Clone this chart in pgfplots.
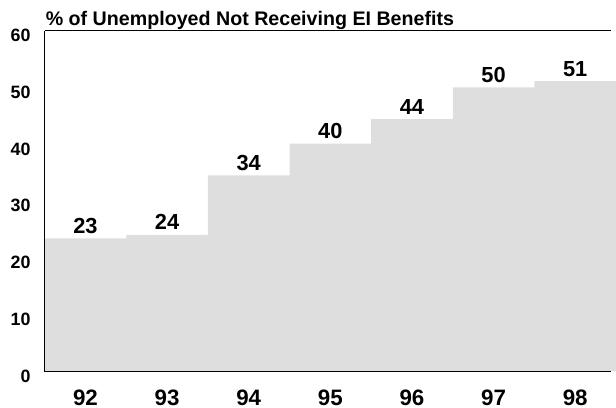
\documentclass[border=0pt]{standalone}
\usepackage{pgfplots}
\usepackage{pgfplotstable}
\pgfplotsset{compat=1.18}
\usepackage{fontspec}
\setmainfont{Liberation Sans}
\definecolor{areagray}{HTML}{DEDEDE}

\pgfplotstableread{
x y
91.5 23.4
92.5 24.0
93.5 34.5
94.5 40.1
95.5 44.4
96.5 50.0
97.5 51.1
98.5 51.1
}\steps

\pgfplotstableread{
x y lab
92 23.4 23
93 24.0 24
94 34.5 34
95 40.1 40
96 44.4 44
97 50.0 50
98 51.1 51
}\labels

\begin{document}
\begin{tikzpicture}
\begin{axis}[
  at={(0,0)}, anchor=south west,
  scale only axis,
  width=571bp, height=343bp,
  xmin=91.5, xmax=98.44,
  ymin=0, ymax=60,
  axis line style={draw=none},
  major tick length=0pt,
  xtick={92,93,94,95,96,97,98},
  xticklabels={92,93,94,95,96,97,98},
  ytick={0,10,20,30,40,50,60},
  /pgf/number format/assume math mode=true,
  yticklabel style={font=\fontsize{18bp}{21bp}\selectfont\bfseries, anchor=east, inner sep=0pt, xshift=-14bp, yshift=-5bp},
  xticklabel style={font=\fontsize{22.5bp}{26bp}\selectfont\bfseries, anchor=center, inner sep=0pt, yshift=-27bp},
  clip=false,
]
\addplot[const plot mark left, draw=none, fill=areagray] table[x=x,y=y] {\steps} \closedcycle;
\addplot[draw=none, mark=none,
  nodes near coords,
  point meta=explicit symbolic,
  every node near coord/.append style={font=\fontsize{22bp}{25bp}\selectfont\bfseries, anchor=base, inner sep=0pt, yshift=5bp},
] table[x=x,y=y,meta=lab] {\labels};
\draw[black, line width=0.8bp] (rel axis cs:0,1) -- (rel axis cs:0,0) -- (rel axis cs:1,0);
\draw[black, line width=0.8bp] (rel axis cs:0,1) -- (rel axis cs:1,1);
\node[anchor=base west, inner sep=0pt, font=\fontsize{19.8bp}{23bp}\selectfont\bfseries] at ([xshift=1bp,yshift=5bp]rel axis cs:0,1) {\% of Unemployed Not Receiving EI Benefits};
\end{axis}
\useasboundingbox (-45bp,-37bp) rectangle (571bp,374bp);
\end{tikzpicture}
\end{document}
